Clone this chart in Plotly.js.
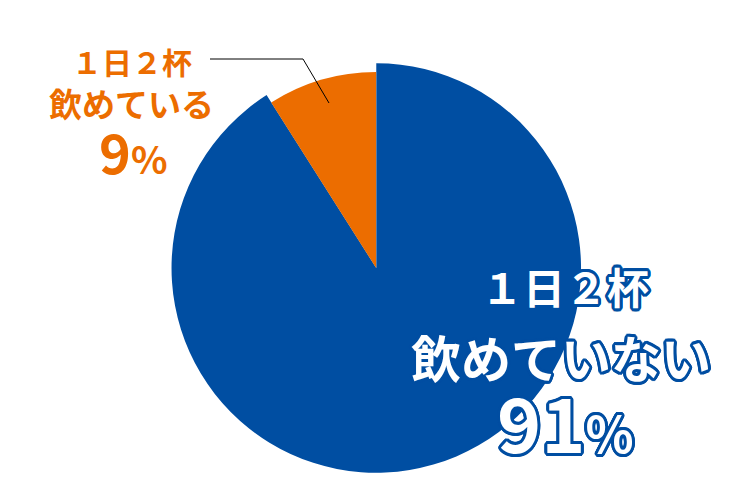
<!DOCTYPE html>
<html><head><meta charset="utf-8">
<script src="https://cdn.plot.ly/plotly-3.0.1.min.js"></script>
<style>html,body{margin:0;padding:0;background:#fff}</style>
</head><body><div id="chart" style="width:750px;height:500px"></div>
<script>
const categories = ['1日2杯飲めていない', '1日2杯飲めている'];
const labelLine1 = ['１日２杯', '１日２杯'];
const labelLine2 = ['飲めていない', '飲めている'];
const values = [91, 9];
const colors = ['#004ea2', '#ec6d00'];

const FONT = '"Noto Sans CJK JP", "Noto Sans", sans-serif';
const blue = colors[0], orange = colors[1];

const traceBlue = {
  type: 'pie', labels: categories, values: values, sort: false,
  direction: 'clockwise', textinfo: 'none', hoverinfo: 'none',
  marker: {colors: [blue, 'rgba(0,0,0,0)'], line: {width: 0}},
  domain: {x: [0.2287, 0.7747], y: [0.054, 0.874]}, showlegend: false
};
const traceOrange = {
  type: 'pie', labels: categories, values: values, sort: false,
  direction: 'clockwise', textinfo: 'none', hoverinfo: 'none',
  marker: {colors: ['rgba(0,0,0,0)', orange], line: {width: 0}},
  domain: {x: [0.2403, 0.7627], y: [0.072, 0.856]}, showlegend: false
};

const sh = (c, w) => {
  const arr = [];
  for (let a = 0; a < 16; a++) {
    const t = a * Math.PI / 8;
    arr.push((w * Math.cos(t)).toFixed(2) + 'px ' + (w * Math.sin(t)).toFixed(2) + 'px 0 ' + c);
  }
  return arr.join(', ');
};
const outlined = (size) => ({family: FONT, size: size, color: '#ffffff', weight: 700, shadow: sh(blue, 3)});

const ann = (x, y, text, font) => ({
  xref: 'paper', yref: 'paper', x: x / 750, y: 1 - y / 500, text: text,
  showarrow: false, xanchor: 'center', yanchor: 'middle', font: font
});

const annotations = [
  ann(132, 61, labelLine1[1], {family: FONT, size: 30, color: orange, weight: 700}),
  ann(131, 103, labelLine2[1], {family: FONT, size: 33, color: orange, weight: 700}),
  ann(133, 150, values[1] + '<span style="font-size:38px">%</span>', {family: FONT, size: 54, color: orange, weight: 700}),
  ann(565, 285, labelLine1[0], outlined(42)),
  ann(561, 356, labelLine2[0], outlined(50)),
  ann(565, 420, values[0] + '<span style="font-size:50px">%</span>', outlined(75))
];

const layout = {
  width: 750, height: 500, margin: {l: 0, r: 0, t: 0, b: 0},
  paper_bgcolor: '#ffffff', plot_bgcolor: '#ffffff', showlegend: false,
  annotations: annotations,
  shapes: [{type: 'path', xref: 'paper', yref: 'paper',
    path: 'M ' + (210/750) + ' ' + (1-59/500) + ' L ' + (303/750) + ' ' + (1-59/500) + ' L ' + (329/750) + ' ' + (1-103/500),
    line: {color: '#000000', width: 1}}]
};
Plotly.newPlot('chart', [traceBlue, traceOrange], layout, {displayModeBar: false, staticPlot: true});
</script></body></html>
